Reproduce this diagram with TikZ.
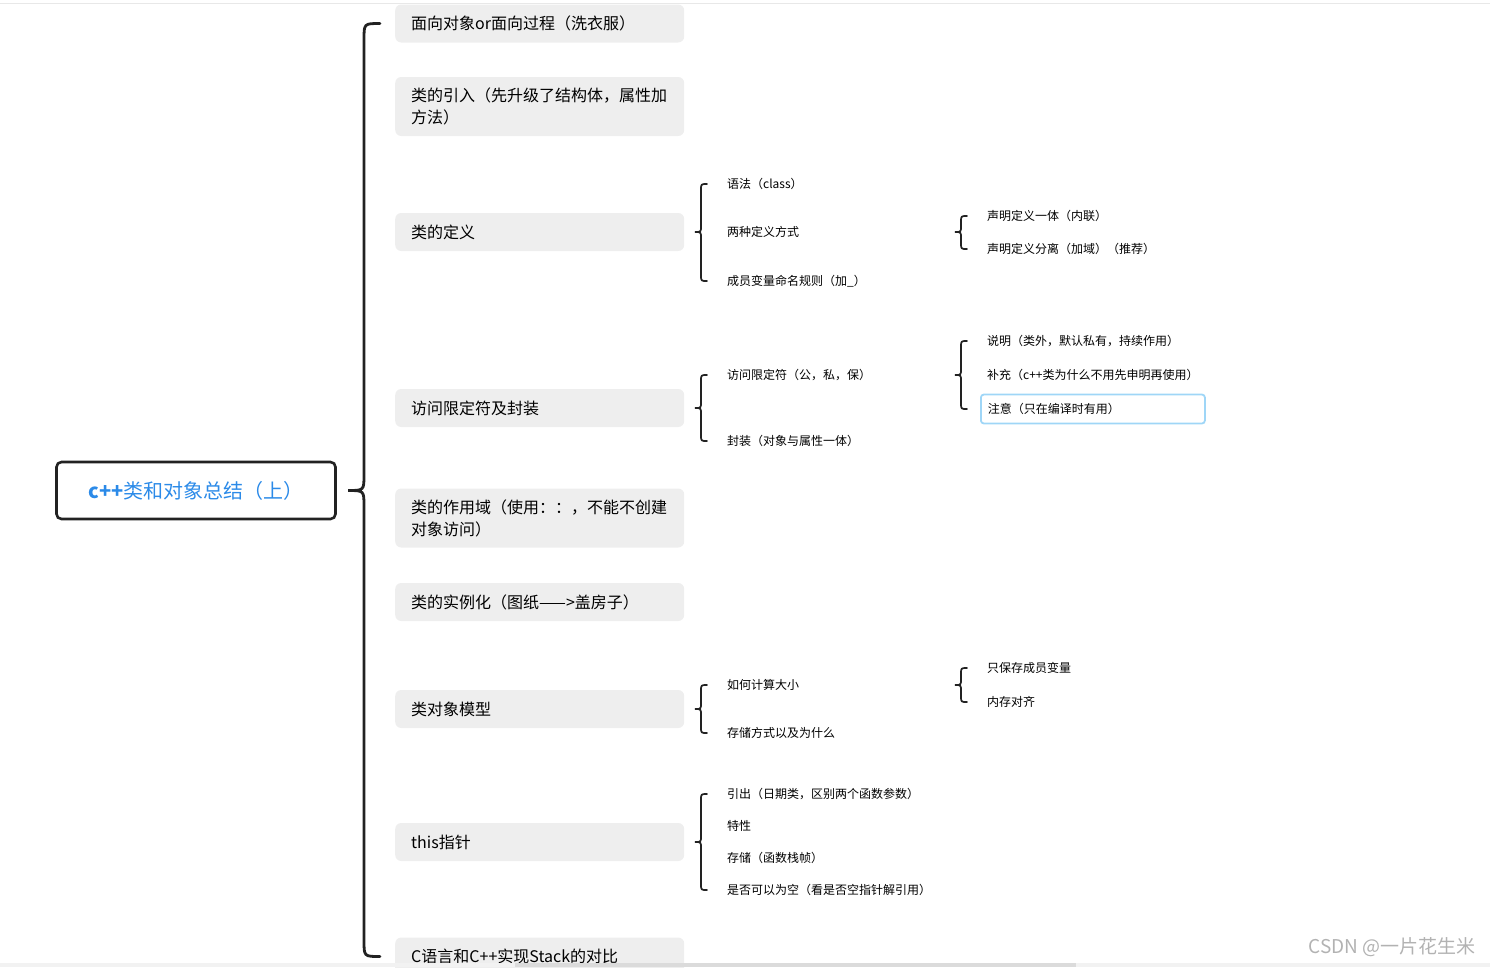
\documentclass[tikz,border=0pt]{standalone}
\usepackage{fontspec}
\setmainfont{Noto Sans CJK SC}
\usetikzlibrary{calc}
\definecolor{boxgray}{HTML}{EEEEEE}
\definecolor{rootblue}{HTML}{2B8AE8}
\definecolor{selblue}{HTML}{9FD6F7}
\definecolor{inkdark}{HTML}{222222}
\tikzset{x=1pt,y=-1pt,
topic/.style={fill=boxgray, rounded corners=6pt, anchor=west, minimum width=289pt, minimum height=38pt, text width=257pt, align=left, inner xsep=16pt, inner ysep=0pt, font=\fontsize{16}{22}\selectfont},
twoline/.style={minimum height=59pt},
leaf/.style={anchor=west, inner sep=0pt, align=left, font=\fontsize{12}{14}\selectfont},
bigbrace/.style={draw=inkdark, line width=2.8pt, line cap=round},
smallbrace/.style={draw=inkdark, line width=1.7pt, line cap=round}}

% #1 parent, #2 first child, #3 last child, #4 gap, #5 depth, #6 style
\newcommand{\curly}[6]{%
\draw[#6] let \p1=(#2.west), \p2=(#3.west), \p3=(#1.east) in
(\x1-#4,\y1) .. controls (\x1-#4-#5,\y1) .. (\x1-#4-#5,\y1-#5)
-- (\x1-#4-#5,\y3+#5) .. controls (\x1-#4-#5,\y3) .. (\x1-#4-2*#5,\y3)
.. controls (\x1-#4-#5,\y3) .. (\x1-#4-#5,\y3-#5)
-- (\x1-#4-#5,\y2+#5) .. controls (\x1-#4-#5,\y2) .. (\x1-#4,\y2);}

\begin{document}
\begin{tikzpicture}
\useasboundingbox (0,0) rectangle (1490,967);
\draw[gray!18, line width=1.5pt] (0,3.5) -- (1490,3.5);

\node[draw=inkdark, line width=2.6pt, rounded corners=5pt, minimum width=279pt, minimum height=57pt, text=rootblue, font=\fontsize{20}{24}\selectfont] (root) at (196,490.5) {{\bfseries c++}类和对象总结（上）};

\node[topic] (oop) at (395,23.5) {面向对象or面向过程（洗衣服）};
\node[topic, twoline] (intro) at (395,106.5) {类的引入（先升级了结构体，属性加\\方法）};
\node[topic] (def) at (395,232) {类的定义};
\node[topic] (access) at (395,408) {访问限定符及封装};
\node[topic, twoline] (scope) at (395,518) {类的作用域（使用：：，不能不创建\\对象访问）};
\node[topic] (inst) at (395,602) {类的实例化（图纸——>盖房子）};
\node[topic] (model) at (395,709) {类对象模型};
\node[topic] (this) at (395,842) {this指针};
\node[topic] (stack) at (395,956.5) {C语言和C++实现Stack的对比};

% 类的定义
\node[leaf] (def1) at (727,184) {语法（class）};
\node[leaf] (def2) at (727,232) {两种定义方式};
\node[leaf] (def3) at (727,281) {成员变量命名规则（加\_）};
\node[leaf] (def21) at (987,216) {声明定义一体（内联）};
\node[leaf] (def22) at (987,249) {声明定义分离（加域）（推荐）};

% 访问限定符
\node[leaf] (acc1) at (727,375) {访问限定符（公，私，保）};
\node[leaf] (acc2) at (727,441) {封装（对象与属性一体）};
\node[leaf] (acc11) at (987,341) {说明（类外，默认私有，持续作用）};
\node[leaf] (acc12) at (987,375) {补充（c++类为什么不用先申明再使用）};
\node[leaf, draw=selblue, line width=1.8pt, rounded corners=3pt, minimum width=224pt, minimum height=29pt, text width=210pt, inner xsep=7pt] (acc13) at (980,409) {注意（只在编译时有用）};

% 类对象模型
\node[leaf] (mod1) at (727,685) {如何计算大小};
\node[leaf] (mod2) at (727,733) {存储方式以及为什么};
\node[leaf] (mod11) at (987,668) {只保存成员变量};
\node[leaf] (mod12) at (987,702) {内存对齐};

% this指针
\node[leaf] (this1) at (727,794) {引出（日期类，区别两个函数参数）};
\node[leaf] (this2) at (727,826) {特性};
\node[leaf] (this3) at (727,858) {存储（函数栈帧）};
\node[leaf] (this4) at (727,890) {是否可以为空（看是否空指针解引用）};

\curly{root}{oop}{stack}{15pt}{16pt}{bigbrace}
\curly{def}{def1}{def3}{20pt}{6pt}{smallbrace}
\curly{def2}{def21}{def22}{20pt}{6pt}{smallbrace}
\curly{access}{acc1}{acc2}{20pt}{6pt}{smallbrace}
\curly{acc1}{acc11}{acc13}{20pt}{6pt}{smallbrace}
\curly{model}{mod1}{mod2}{20pt}{6pt}{smallbrace}
\curly{mod1}{mod11}{mod12}{20pt}{6pt}{smallbrace}
\curly{this}{this1}{this4}{20pt}{6pt}{smallbrace}

\fill[gray!10] (0,963) rectangle (1490,967);
\fill[gray!28] (515,963) rectangle (1076,967);
\node[anchor=east, inner sep=0pt, text=gray!60, font=\fontsize{19}{22}\selectfont] (mark) at (1476,947) {CSDN @一片花生米};
\end{tikzpicture}
\end{document}
